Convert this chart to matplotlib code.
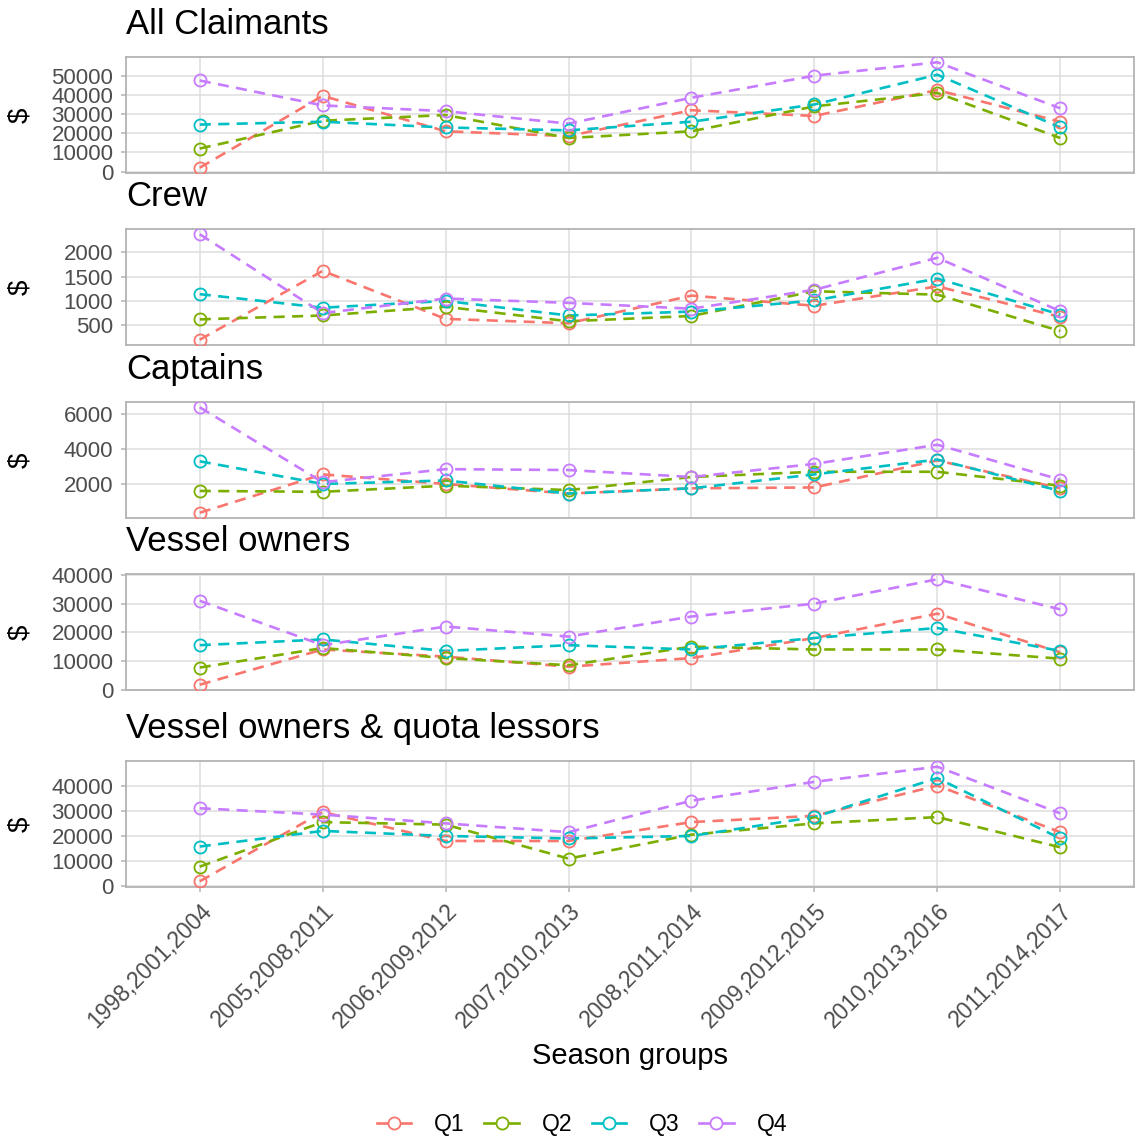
import matplotlib
matplotlib.use("Agg")
import matplotlib.pyplot as plt
from matplotlib.lines import Line2D

plt.rcParams['font.family'] = ['Liberation Sans', 'DejaVu Sans']

season_groups = ["1998,2001,2004", "2005,2008,2011", "2006,2009,2012", "2007,2010,2013",
                 "2008,2011,2014", "2009,2012,2015", "2010,2013,2016", "2011,2014,2017"]
quartiles = ["Q1", "Q2", "Q3", "Q4"]
colors = ["#F8766D", "#7CAE00", "#00BFC4", "#C77CFF"]

panel_titles = ["All Claimants", "Crew", "Captains", "Vessel owners", "Vessel owners & quota lessors"]

all_q1 = [2000, 39500, 21000, 18500, 32000, 29000, 42500, 26000]
all_q2 = [12000, 26500, 29500, 17500, 21000, 34000, 41000, 17500]
all_q3 = [24500, 26000, 23000, 21500, 26000, 35000, 50500, 23000]
all_q4 = [47500, 34500, 31500, 25000, 38500, 50000, 57000, 33000]

crew_q1 = [200, 1620, 630, 540, 1110, 900, 1300, 670]
crew_q2 = [620, 700, 880, 580, 690, 1200, 1130, 380]
crew_q3 = [1140, 860, 1000, 700, 780, 1010, 1460, 720]
crew_q4 = [2375, 750, 1050, 960, 840, 1230, 1890, 790]

capt_q1 = [350, 2550, 2000, 1450, 1750, 1800, 3350, 1750]
capt_q2 = [1600, 1550, 1900, 1650, 2400, 2700, 2700, 1900]
capt_q3 = [3300, 2000, 2200, 1450, 1750, 2550, 3400, 1600]
capt_q4 = [6400, 2100, 2850, 2800, 2400, 3150, 4250, 2250]

vo_q1 = [1700, 14000, 11500, 8000, 11000, 18000, 26500, 13000]
vo_q2 = [7700, 14500, 11000, 8500, 15000, 14000, 14000, 10800]
vo_q3 = [15500, 17500, 13500, 15500, 14000, 18000, 21500, 13500]
vo_q4 = [31000, 15500, 22000, 18500, 25500, 30000, 38500, 28000]

voq_q1 = [2000, 29500, 18000, 18000, 25500, 28000, 40000, 21500]
voq_q2 = [7800, 25500, 24500, 11000, 20500, 25000, 27500, 15500]
voq_q3 = [15800, 22000, 20000, 19000, 20000, 27500, 43000, 19000]
voq_q4 = [31000, 28500, 25000, 21500, 34000, 41500, 47500, 29000]

panel_data = [
    [all_q1, all_q2, all_q3, all_q4],
    [crew_q1, crew_q2, crew_q3, crew_q4],
    [capt_q1, capt_q2, capt_q3, capt_q4],
    [vo_q1, vo_q2, vo_q3, vo_q4],
    [voq_q1, voq_q2, voq_q3, voq_q4],
]
panel_yticks = [
    [0, 10000, 20000, 30000, 40000, 50000],
    [500, 1000, 1500, 2000],
    [2000, 4000, 6000],
    [0, 10000, 20000, 30000, 40000],
    [0, 10000, 20000, 30000, 40000],
]

W, H = 1135, 1141
fig = plt.figure(figsize=(W / 100, H / 100), dpi=100)

# panel pixel extents (top, bottom)
extents = [(57, 173), (229, 345), (402, 518), (574, 690), (761, 887)]
left_px, right_px = 126, 1134

tick_col = "#4D4D4D"
grid_col = "#DEDEDE"
border_col = "#B3B3B3"

axes = []
for i, (top, bot) in enumerate(extents):
    ax = fig.add_axes([left_px / W, 1 - bot / H, (right_px - left_px) / W, (bot - top) / H])
    axes.append(ax)
    x = list(range(len(season_groups)))
    for q, col, vals in zip(quartiles, colors, panel_data[i]):
        ax.plot(x, vals, color=col, lw=1.9, linestyle=(0, (4.2, 2.8)), zorder=3)
    for q, col, vals in zip(quartiles, colors, panel_data[i]):
        ax.plot(x, vals, linestyle='none', marker='o', markersize=8.7,
                markerfacecolor='none', markeredgecolor=col, markeredgewidth=1.3, zorder=4)
    ax.set_xlim(-0.6, len(season_groups) - 1 + 0.6)
    ax.margins(y=0.05)
    ax.set_yticks(panel_yticks[i])
    ax.set_yticklabels([str(v) for v in panel_yticks[i]])
    ax.set_xticks(x)
    ax.grid(True, color=grid_col, lw=1.1, zorder=0)
    ax.set_axisbelow(True)
    for sp in ax.spines.values():
        sp.set_color(border_col)
        sp.set_linewidth(1.3)
    ax.tick_params(axis='y', colors=border_col, labelcolor=tick_col, labelsize=16,
                   length=3.6, width=1.1, pad=5.5)
    if i < len(extents) - 1:
        ax.tick_params(axis='x', length=0, labelbottom=False)
    else:
        ax.tick_params(axis='x', colors=border_col, labelcolor=tick_col, labelsize=16.5,
                       length=3.6, width=1.1, pad=5.5)
        ax.set_xticklabels(season_groups, rotation=45, ha='right', va='top', rotation_mode='anchor')
    ax.set_ylabel("$", fontsize=20, color='black')
    ax.yaxis.set_label_coords(-(126 - 33) / (right_px - left_px), 0.5)
    ax.text(0, 1 + 23 / (bot - top), panel_titles[i], transform=ax.transAxes,
            fontsize=25, ha='left', va='baseline', color='black')

fig.text(630 / W, 1 - 1056 / H, "Season groups", fontsize=21, ha='center', va='center')

handles = [Line2D([0], [0], color=c, lw=1.9, marker='o', markersize=8.7,
                  markerfacecolor='white', markeredgecolor=c, markeredgewidth=1.3)
           for c in colors]
fig.legend(handles, quartiles, loc='center', bbox_to_anchor=(582 / W, 1 - 1125 / H), ncol=4,
           frameon=False, fontsize=16.5, handlelength=1.5, columnspacing=0.85, handletextpad=1.0)

fig.savefig("out.png", dpi=100)
